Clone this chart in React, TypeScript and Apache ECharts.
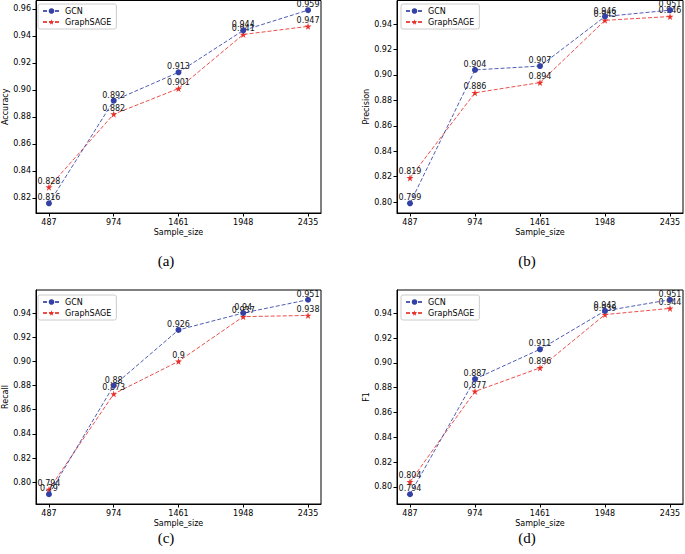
import React, { useEffect, useRef } from "react";
import * as echarts from "echarts";

const sampleSizes = [487, 974, 1461, 1948, 2435];
const yTickValues = [0.8, 0.82, 0.84, 0.86, 0.88, 0.9, 0.92, 0.94, 0.96];

const gcnAccuracy = [0.816, 0.892, 0.913, 0.944, 0.959];
const sageAccuracy = [0.828, 0.882, 0.901, 0.941, 0.947];
const gcnPrecision = [0.799, 0.904, 0.907, 0.946, 0.951];
const sagePrecision = [0.819, 0.886, 0.894, 0.943, 0.946];
const gcnRecall = [0.79, 0.88, 0.926, 0.94, 0.951];
const sageRecall = [0.794, 0.873, 0.9, 0.937, 0.938];
const gcnF1 = [0.794, 0.887, 0.911, 0.942, 0.951];
const sageF1 = [0.804, 0.877, 0.896, 0.939, 0.944];

const panelNames = ["Accuracy", "Precision", "Recall", "F1"];
const captions = ["(a)", "(b)", "(c)", "(d)"];
const seriesNames = ["GCN", "GraphSAGE"];

const BLUE = "#3341a6";
const RED = "#e8302a";
const STAR =
  "path://M50,0 L61,35 L98,35 L68,57 L79,91 L50,70 L21,91 L32,57 L2,35 L39,35 Z";
const FONT = "DejaVu Sans";

const grids = [
  { left: 34, top: 0.5, width: 287, height: 212.5 },
  { left: 397, top: 0.5, width: 286, height: 212.5 },
  { left: 34, top: 290, width: 287, height: 214 },
  { left: 397, top: 290, width: 286, height: 214 },
];
const captionPos = [
  [166, 261],
  [527, 261],
  [166, 538],
  [527, 538],
];

export default function App() {
  const ref = useRef<HTMLDivElement>(null);
  useEffect(() => {
    document.body.style.margin = "0";
    const chart = echarts.init(ref.current!, undefined, { renderer: "svg" });
    const panels = [
      [gcnAccuracy, sageAccuracy],
      [gcnPrecision, sagePrecision],
      [gcnRecall, sageRecall],
      [gcnF1, sageF1],
    ];
    const xMinD = Math.min(...sampleSizes);
    const xMaxD = Math.max(...sampleSizes);
    const xPad = (xMaxD - xMinD) * 0.05;

    const xAxis: any[] = [];
    const yAxis: any[] = [];
    const series: any[] = [];
    const legend: any[] = [];
    const graphic: any[] = [];

    panels.forEach((pair, i) => {
      const all = [...pair[0], ...pair[1]];
      const lo = Math.min(...all);
      const hi = Math.max(...all);
      const pad = (hi - lo) * 0.05;
      const yMin = lo - pad;
      const yMax = hi + pad;
      const ticks = yTickValues.filter((v) => v >= yMin && v <= yMax);
      xAxis.push({
        type: "value",
        gridIndex: i,
        min: xMinD - xPad,
        max: xMaxD + xPad,
        name: "Sample_size",
        nameLocation: "middle",
        nameGap: 15,
        nameTextStyle: { fontFamily: FONT, fontSize: 8, color: "#000" },
        axisLine: { show: true, lineStyle: { color: "#000", width: 1 } },
        axisTick: {
          show: true,
          length: 3.5,
          customValues: sampleSizes,
          lineStyle: { color: "#000" },
        },
        axisLabel: {
          customValues: sampleSizes,
          formatter: (v: number) => String(v),
          fontFamily: FONT,
          fontSize: 8,
          color: "#000",
          margin: 5,
        },
        splitLine: { show: false },
      });
      yAxis.push({
        type: "value",
        gridIndex: i,
        min: yMin,
        max: yMax,
        name: panelNames[i],
        nameLocation: "middle",
        nameGap: 27,
        nameTextStyle: { fontFamily: FONT, fontSize: 8, color: "#000" },
        axisLine: { show: true, lineStyle: { color: "#000", width: 1 } },
        axisTick: {
          show: true,
          length: 3.5,
          customValues: ticks,
          lineStyle: { color: "#000" },
        },
        axisLabel: {
          customValues: ticks,
          formatter: (v: number) => v.toFixed(2),
          fontFamily: FONT,
          fontSize: 8,
          color: "#000",
          margin: 5,
        },
        splitLine: { show: false },
      });
      pair.forEach((vals, s) => {
        const color = s === 0 ? BLUE : RED;
        series.push({
          type: "line",
          name: seriesNames[s],
          xAxisIndex: i,
          yAxisIndex: i,
          data: sampleSizes.map((x, k) => [x, vals[k]]),
          symbol: s === 0 ? "circle" : STAR,
          symbolSize: s === 0 ? 6 : 7,
          itemStyle: { color },
          lineStyle: { color, width: 1, type: [4, 2], opacity: 0.85 },
          label: {
            show: true,
            position: "top",
            distance: -1.5,
            formatter: (p: any) => String(p.value[1]),
            fontFamily: FONT,
            fontSize: 8,
            color: "#111",
          },
          emphasis: { disabled: true },
          z: s === 0 ? 3 : 2,
        });
      });
      const g = grids[i];
      legend.push({
        orient: "vertical",
        left: g.left + 4,
        top: g.top + (i < 2 ? 3.5 : 5),
        data: seriesNames,
        itemWidth: 17,
        itemHeight: 7,
        itemGap: 3,
        padding: [3, 5, 3, 4],
        borderColor: "#ccc",
        borderWidth: 1,
        borderRadius: 2,
        backgroundColor: "#fff",
        textStyle: { fontFamily: FONT, fontSize: 8, color: "#000" },
        selectedMode: false,
      });
      graphic.push({
        type: "text",
        x: captionPos[i][0],
        y: captionPos[i][1],
        style: {
          text: captions[i],
          font: "15px 'Liberation Serif'",
          fill: "#000",
          align: "center",
          verticalAlign: "middle",
        },
      });
    });

    chart.setOption({
      animation: false,
      backgroundColor: "#fff",
      grid: grids.map((g) => ({
        ...g,
        show: true,
        borderColor: "#000",
        borderWidth: 1,
        backgroundColor: "transparent",
        containLabel: false,
      })),
      xAxis,
      yAxis,
      series,
      legend,
      graphic,
    });
    return () => chart.dispose();
  }, []);
  return (
    <div
      ref={ref}
      style={{ width: 685, height: 554, position: "absolute", left: 0, top: 0 }}
    />
  );
}
